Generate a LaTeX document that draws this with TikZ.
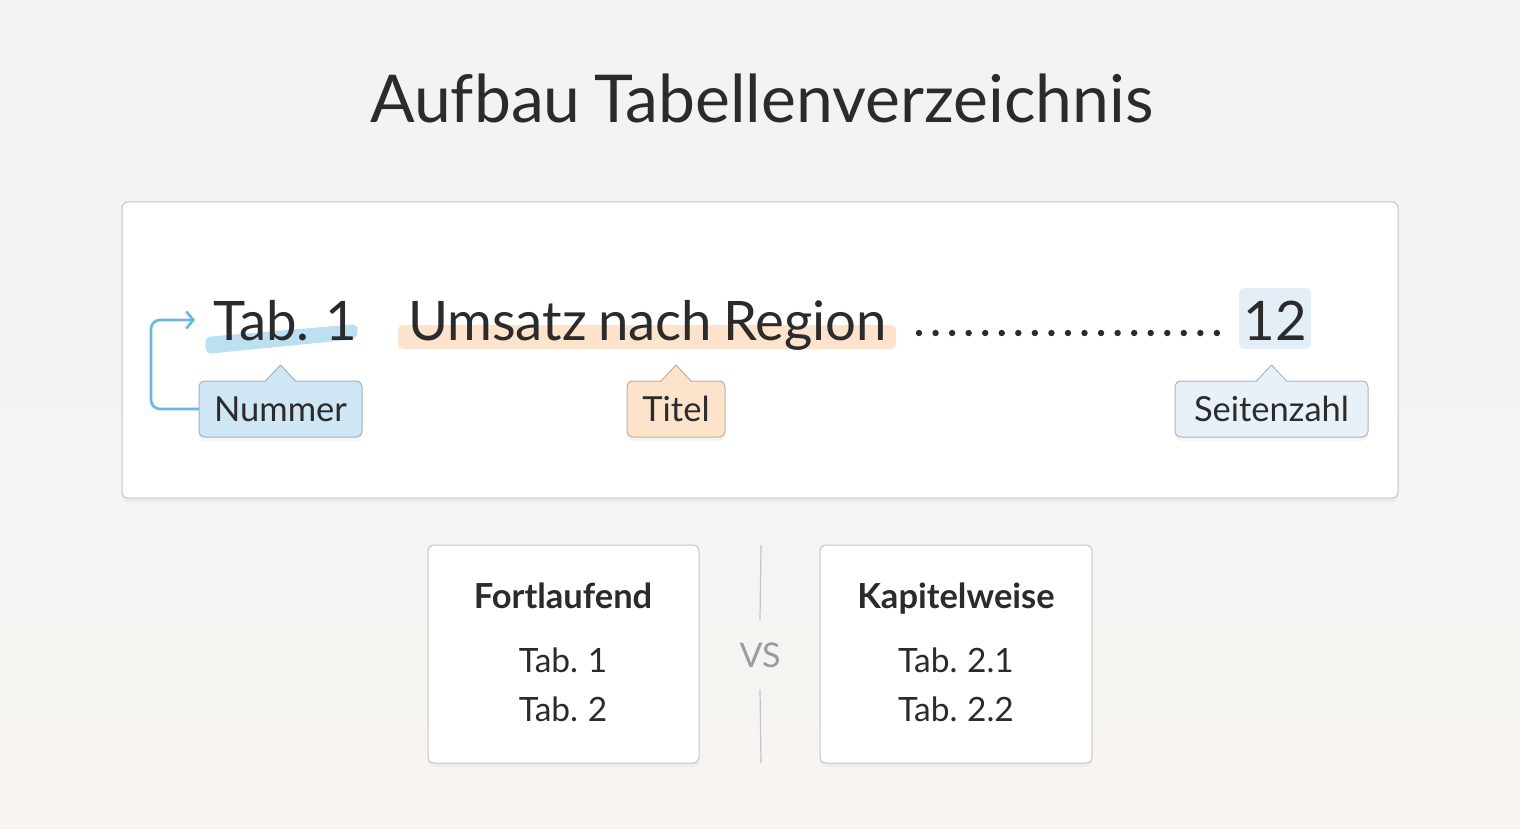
\documentclass[tikz,border=0pt]{standalone}
\usepackage{fontspec}
\setmainfont{Lato}[Ligatures=NoCommon, WordSpace=0.8]
\usetikzlibrary{shadows,calc,arrows.meta}
\definecolor{ink}{HTML}{2B2B2B}
\definecolor{bgA}{HTML}{F3F3F3}
\definecolor{bgB}{HTML}{F7F4F1}
\definecolor{boxborder}{HTML}{C6C6C6}
\definecolor{bluehl}{HTML}{BDDFF2}
\definecolor{orangehl}{HTML}{FDE3CC}
\definecolor{pagebox}{HTML}{E3EEF7}
\definecolor{numfill}{HTML}{CFE6F5}
\definecolor{numborder}{HTML}{9DB4C3}
\definecolor{titfill}{HTML}{FCE3CC}
\definecolor{titborder}{HTML}{C6AE9A}
\definecolor{segfill}{HTML}{E9F1F8}
\definecolor{segborder}{HTML}{A9B7C2}
\definecolor{arrowblue}{HTML}{6AB7E0}
\definecolor{vsgray}{HTML}{9C9C9C}
\definecolor{sepgray}{HTML}{C4C4C4}
\newcommand\mycallptr[3]{%
  \filldraw[fill=#2,draw=#3,line width=1pt,line join=round]
    ($(#1.north)+(-15,0)$) -- ($(#1.north)+(0,-16)$) -- ($(#1.north)+(15,0)$);
  \fill[#2] ($(#1.north)+(-14.3,1.5)$) rectangle ($(#1.north)+(14.3,-0.4)$);
}
\tikzset{
  bigtext/.style={font=\fontsize{54.5}{60}\selectfont, text=ink, inner sep=0pt},
  callout/.style={draw=#1, line width=1pt, rounded corners=6pt, minimum height=56pt,
    inner xsep=0pt, outer sep=0pt, text=ink, font=\fontsize{34.5}{38}\selectfont,
    drop shadow={opacity=0.08, shadow xshift=0pt, shadow yshift=-4pt}},
  panel/.style={draw=boxborder, line width=1pt, fill=white, rounded corners=6pt,
    outer sep=0pt, drop shadow={opacity=0.07, shadow xshift=0pt, shadow yshift=-4pt}},
  smalltext/.style={font=\fontsize{33.5}{36}\selectfont, text=ink, inner sep=0pt},
  headtext/.style={font=\fontsize{34.5}{38}\selectfont\bfseries, text=ink, inner sep=0pt},
}
\begin{document}
\begin{tikzpicture}[x=1pt,y=-1pt]
\useasboundingbox (0,0) rectangle (1520,829);
\shade[shading angle=135, top color=bgA, bottom color=bgB] (0,0) rectangle (1520,829);
% title
\node[anchor=base, font=\fontsize{66}{72}\selectfont, text=ink, inner sep=0pt] (title) at (762,123) {Aufbau Tabellenverzeichnis};
% main panel
\node[panel, minimum width=1276pt, minimum height=296pt] (main) at (760,350) {};
% highlights
\fill[bluehl, rounded corners=6pt] (205,337) -- (358,324) -- (357,339) -- (206,354) -- cycle;
\fill[orangehl, rounded corners=5pt] (398,325) rectangle (896,349);
\node[fill=pagebox, rounded corners=5pt, minimum width=72pt, minimum height=61pt, inner sep=0pt] (pagebg) at (1275,318.5) {};
% entry texts
\node[bigtext, anchor=base west] (tab) at (213,340) {Tab. 1};
\node[bigtext, anchor=base west] (tit) at (408,340) {Umsatz nach Region};
\node[bigtext, anchor=base] (page) at (1275,340) {12};
% dotted leader
\foreach \i in {0,...,18} {
  \fill[ink] (919+\i*16.55,333) circle (3.2pt);
}
% callouts
\node[callout=numborder, fill=numfill, minimum width=163pt] (num) at (280.5,409) {Nummer};
\mycallptr{num}{numfill}{numborder}
\node[callout=titborder, fill=titfill, minimum width=98pt] (tl) at (676,409) {Titel};
\mycallptr{tl}{titfill}{titborder}
\node[callout=segborder, fill=segfill, minimum width=193pt] (seit) at (1271.5,409) {Seitenzahl};
\mycallptr{seit}{segfill}{segborder}
% loop arrow
\coordinate (arrend) at (195,320);
\draw[arrowblue, line width=2.6pt, rounded corners=9pt, -{Straight Barb[length=7pt,width=17pt]}]
  (num.west) -- ++(-48,0) |- (arrend);
% bottom comparison
\node[panel, minimum width=271pt, minimum height=218pt] (fort) at (563.5,654) {};
\node[panel, minimum width=272pt, minimum height=218pt] (kap) at (956,654) {};
\node[headtext, anchor=base] (fh) at (563,608) {Fortlaufend};
\node[smalltext, anchor=base] (f1) at (563,672) {Tab. 1};
\node[smalltext, anchor=base] (f2) at (563,721) {Tab. 2};
\node[headtext, anchor=base] (kh) at (956,608) {Kapitelweise};
\node[smalltext, anchor=base] (k1) at (956,672) {Tab. 2.1};
\node[smalltext, anchor=base] (k2) at (956,721) {Tab. 2.2};
\node[font=\fontsize{34}{36}\selectfont, text=vsgray, minimum height=69pt, inner sep=0pt] (vs) at (760,655) {VS};
\coordinate (septop) at (761,545);
\coordinate (sepbot) at (761,763);
\draw[sepgray, line width=1.2pt] (septop) -- (vs.north);
\draw[sepgray, line width=1.2pt] (vs.south) -- (sepbot);
\end{tikzpicture}
\end{document}
